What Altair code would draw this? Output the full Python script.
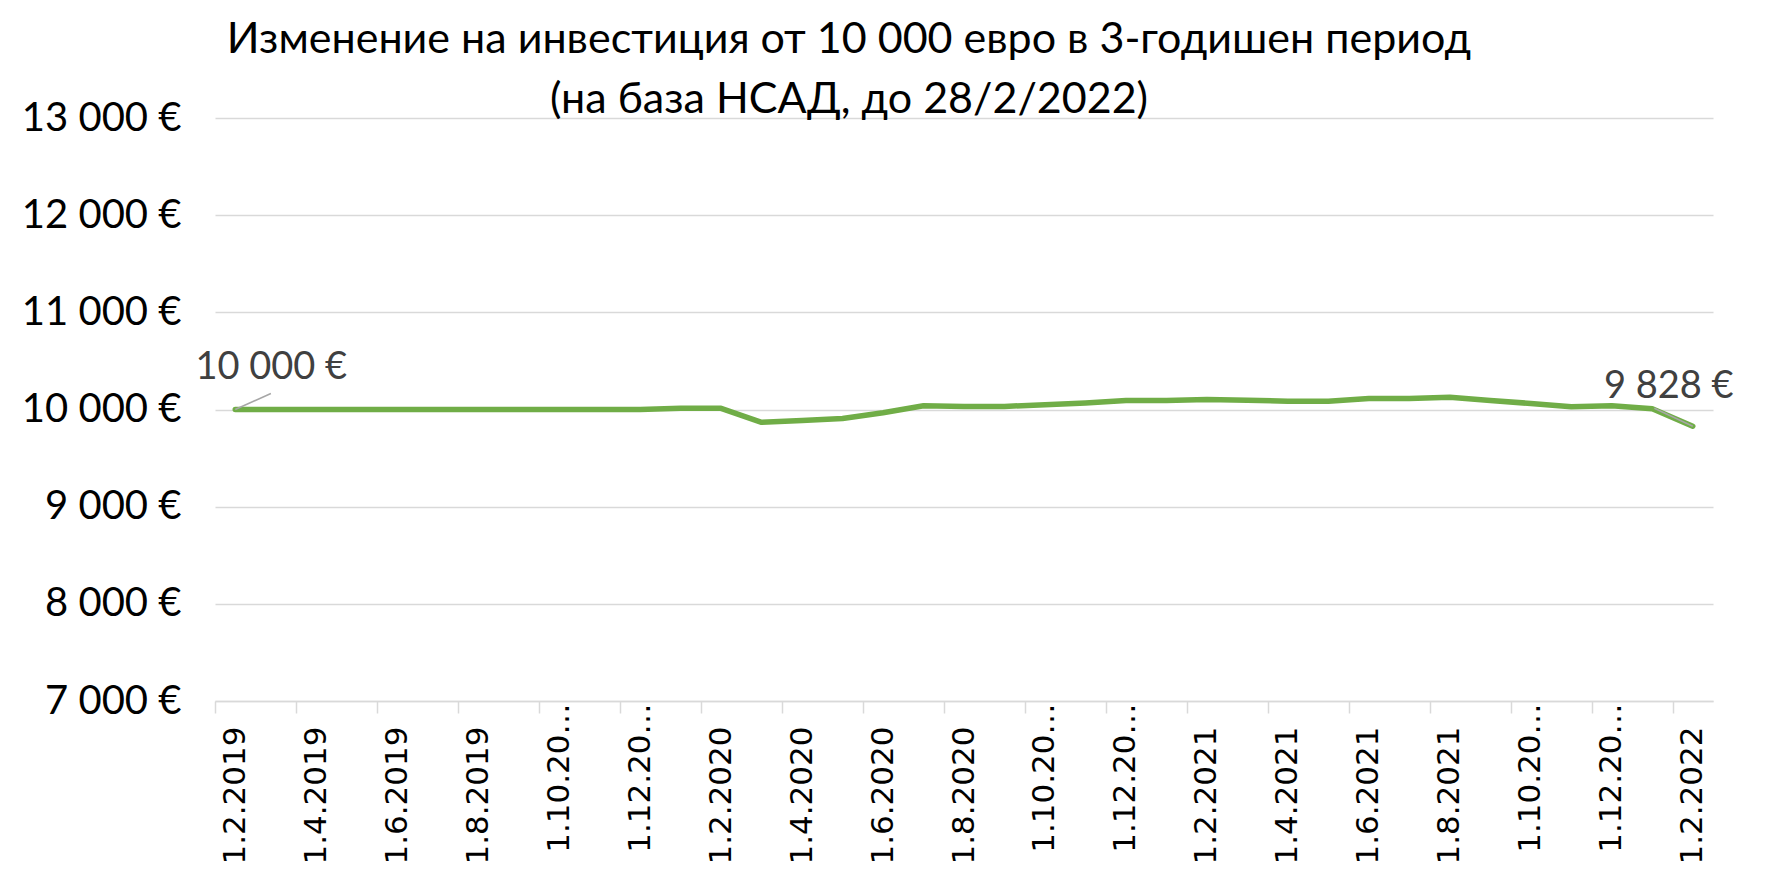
import json
import altair as alt
import pandas as pd

# ---- data ----
months = [
    "1.2.2019", "1.3.2019", "1.4.2019", "1.5.2019", "1.6.2019", "1.7.2019",
    "1.8.2019", "1.9.2019", "1.10.2019", "1.11.2019", "1.12.2019",
    "1.1.2020", "1.2.2020", "1.3.2020", "1.4.2020", "1.5.2020", "1.6.2020",
    "1.7.2020", "1.8.2020", "1.9.2020", "1.10.2020", "1.11.2020", "1.12.2020",
    "1.1.2021", "1.2.2021", "1.3.2021", "1.4.2021", "1.5.2021", "1.6.2021",
    "1.7.2021", "1.8.2021", "1.9.2021", "1.10.2021", "1.11.2021", "1.12.2021",
    "1.1.2022", "1.2.2022",
]
values = [
    10000, 10000, 10000, 10000, 10000, 10000, 10000, 10000, 10000, 10000, 10000,
    10012, 10012, 9868, 9887, 9907, 9966, 10038, 10031, 10031, 10050, 10068, 10093,
    10093, 10102, 10094, 10086, 10086, 10112, 10112, 10125, 10092, 10062, 10028,
    10038, 10008, 9828,
]
y_ticks = [7000, 8000, 9000, 10000, 11000, 12000, 13000]
title_lines = [
    "Изменение на инвестиция от 10 000 евро в 3-годишен период",
    "(на база НСАД, до 28/2/2022)",
]

df = pd.DataFrame({"idx": list(range(len(months))), "month": months, "value": values})

n = len(months)
# axis ticks sit on the boundaries before every second month (Excel style)
tick_bounds = [i - 0.5 for i in range(0, n, 2)]
months_js = json.dumps(months, ensure_ascii=False)

W, H = 1498, 583
FONT = "Lato"
XFS = 31

x_scale = alt.Scale(domain=[-0.5, n - 0.5], nice=False, zero=False)
y_scale = alt.Scale(domain=[y_ticks[0], y_ticks[-1]], nice=False, zero=False)

x_axis = alt.Axis(
    values=tick_bounds,
    labelExpr=f"{months_js}[round(datum.value + 0.5)]",
    labelAngle=270,
    labelOffset=W / n / 2,
    labelPadding={
        "condition": {
            "test": f"length({months_js}[round(datum.value + 0.5)]) > 8",
            "value": -10,
        },
        "value": 13,
    },
    labelFont="DejaVu Sans",
    labelFontSize=XFS,
    labelColor="#000000",
    labelLimit=153,
    labelOverlap=False,
    labelFlush=False,
    ticks=True,
    tickSize=12,
    tickColor="#d9d9d9",
    tickWidth=1.5,
    domain=True,
    domainColor="#d9d9d9",
    domainWidth=1.5,
    grid=False,
    title=None,
)

y_axis = alt.Axis(
    values=y_ticks,
    labelExpr="replace(format(datum.value, ','), ',', ' ') + ' €'",
    labelFont=FONT,
    labelFontSize=40,
    labelColor="#000000",
    labelPadding=34,
    ticks=False,
    domain=False,
    grid=True,
    gridColor="#d9d9d9",
    gridWidth=1.5,
    title=None,
)

base = alt.Chart(df)

line = base.mark_line(
    color="#70AD47", strokeWidth=5.5, strokeJoin="round", strokeCap="round"
).encode(
    x=alt.X("idx:Q", scale=x_scale, axis=x_axis),
    y=alt.Y("value:Q", scale=y_scale, axis=y_axis),
)

first = base.transform_filter(alt.datum.idx == 0)
last = base.transform_filter(alt.datum.idx == n - 1)

# leader lines for data labels (offsets in data units)
leader_first = first.transform_calculate(
    x2="datum.idx + 0.88", y2="datum.value + 165"
).mark_rule(color="#a6a6a6", strokeWidth=1.5).encode(
    x="idx:Q", y="value:Q", x2="x2:Q", y2="y2:Q"
)
leader_last = last.transform_calculate(
    x2="datum.idx - 0.95", y2="datum.value + 185"
).mark_rule(color="#a6a6a6", strokeWidth=1.5).encode(
    x="idx:Q", y="value:Q", x2="x2:Q", y2="y2:Q"
)

label_expr = "replace(format(datum.value, ','), ',', ' ') + ' €'"
label_first = first.transform_calculate(lbl=label_expr).mark_text(
    font=FONT, fontSize=38, color="#404040", align="center",
    baseline="alphabetic", dx=36, dy=-31,
).encode(x="idx:Q", y="value:Q", text="lbl:N")
label_last = last.transform_calculate(lbl=label_expr).mark_text(
    font=FONT, fontSize=38, color="#404040", align="center",
    baseline="alphabetic", dx=-24, dy=-28,
).encode(x="idx:Q", y="value:Q", text="lbl:N")

chart = alt.layer(
    line, leader_first, leader_last, label_first, label_last
).properties(
    width=W,
    height=H,
    title=alt.TitleParams(
        text=title_lines,
        font=FONT,
        fontSize=43,
        fontWeight="normal",
        color="#000000",
        lineHeight=60,
        anchor="middle",
        dx=-115,
        offset=-24,
    ),
    autosize=alt.AutoSizeParams(type="none"),
    padding={"left": 207, "top": 110, "right": 51, "bottom": 166},
).configure(background="#ffffff").configure_view(strokeWidth=0, strokeOpacity=0)

chart.save("out.html", embed_options={"renderer": "svg", "actions": False})
